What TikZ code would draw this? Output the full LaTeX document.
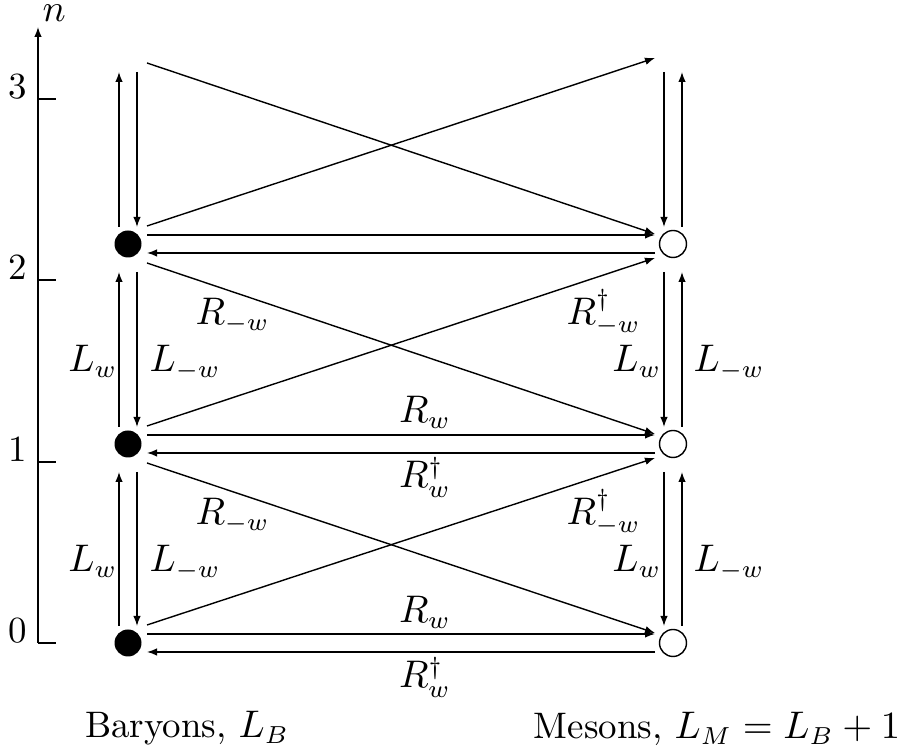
\documentclass[tikz,border=0pt]{standalone}
\usepackage{tikz}
\usetikzlibrary{positioning, arrows.meta, calc}
\usepackage{amsmath}
\usepackage{amssymb}

\begin{document}
\begin{tikzpicture}[
    every node/.style={font=\fontsize{10.5}{12.6}\selectfont},
    baryon/.style={circle, fill=black, minimum size=0.27cm, inner sep=0pt},
    meson/.style={circle, draw, minimum size=0.27cm, inner sep=0pt},
    lab/.style={inner sep=0pt},
    hop/.style={-{Latex[length=1mm,width=0.75mm]}}
]
\useasboundingbox (0,0) rectangle (9.03,7.48);

% Axis
\coordinate (a0) at (0.38,1.05);
\coordinate (atop) at (0.38,7.21);
\draw[hop] (a0) -- (atop);
\node[lab, anchor=base west] (nlab) at (0.42,7.26) {$n$};
\coordinate (t0) at (0.38,1.05);
\coordinate (t1) at (0.38,2.86);
\coordinate (t2) at (0.38,4.68);
\coordinate (t3) at (0.38,6.49);
\draw (t0) -- ++(0.18,0);
\draw (t1) -- ++(0.18,0);
\draw (t2) -- ++(0.18,0);
\draw (t3) -- ++(0.18,0);
\node[lab, anchor=base east] (n0) at (0.28,1.05) {0};
\node[lab, anchor=base east] (n1) at (0.28,2.86) {1};
\node[lab, anchor=base east] (n2) at (0.28,4.68) {2};
\node[lab, anchor=base east] (n3) at (0.28,6.49) {3};

% Baryons
\node[baryon] (b0) at (1.28,1.05) {};
\node[baryon] (b1) at (1.28,3.04) {};
\node[baryon] (b2) at (1.28,5.04) {};
\coordinate (b3) at (1.28,7.04);

% Mesons
\node[meson] (m0) at (6.73,1.05) {};
\node[meson] (m1) at (6.73,3.04) {};
\node[meson] (m2) at (6.73,5.04) {};
\coordinate (m3) at (6.73,7.04);

% Baryon ladders
\draw[hop] ($(b0)+(-0.09,0.17)$) -- ($(b1)+(-0.09,-0.28)$);
\draw[hop] ($(b1)+(0.09,-0.28)$) -- ($(b0)+(0.09,0.17)$);
\draw[hop] ($(b1)+(-0.09,0.17)$) -- ($(b2)+(-0.09,-0.28)$);
\draw[hop] ($(b2)+(0.09,-0.28)$) -- ($(b1)+(0.09,0.17)$);
\draw[hop] ($(b2)+(-0.09,0.17)$) -- ($(b3)+(-0.09,-0.28)$);
\draw[hop] ($(b3)+(0.09,-0.28)$) -- ($(b2)+(0.09,0.17)$);

% Meson ladders
\draw[hop] ($(m1)+(-0.09,-0.28)$) -- ($(m0)+(-0.09,0.17)$);
\draw[hop] ($(m0)+(0.09,0.17)$) -- ($(m1)+(0.09,-0.28)$);
\draw[hop] ($(m2)+(-0.09,-0.28)$) -- ($(m1)+(-0.09,0.17)$);
\draw[hop] ($(m1)+(0.09,0.17)$) -- ($(m2)+(0.09,-0.28)$);
\draw[hop] ($(m3)+(-0.09,-0.28)$) -- ($(m2)+(-0.09,0.17)$);
\draw[hop] ($(m2)+(0.09,0.17)$) -- ($(m3)+(0.09,-0.28)$);

% Same level
\draw[hop] ($(b0)+(0.19,0.09)$) -- ($(m0)+(-0.18,0.09)$);
\draw[hop] ($(m0)+(-0.18,-0.09)$) -- ($(b0)+(0.19,-0.09)$);
\draw[hop] ($(b1)+(0.19,0.09)$) -- ($(m1)+(-0.18,0.09)$);
\draw[hop] ($(m1)+(-0.18,-0.09)$) -- ($(b1)+(0.19,-0.09)$);
\draw[hop] ($(b2)+(0.19,0.09)$) -- ($(m2)+(-0.18,0.09)$);
\draw[hop] ($(m2)+(-0.18,-0.09)$) -- ($(b2)+(0.19,-0.09)$);

% Crossing
\draw[hop] ($(b0)+(0.19,0.18)$) -- ($(m1)+(-0.18,-0.14)$);
\draw[hop] ($(b1)+(0.19,-0.19)$) -- ($(m0)+(-0.18,0.10)$);
\draw[hop] ($(b1)+(0.19,0.18)$) -- ($(m2)+(-0.18,-0.14)$);
\draw[hop] ($(b2)+(0.19,-0.19)$) -- ($(m1)+(-0.18,0.10)$);
\draw[hop] ($(b2)+(0.19,0.18)$) -- ($(m3)+(-0.18,-0.14)$);
\draw[hop] ($(b3)+(0.19,-0.19)$) -- ($(m2)+(-0.18,0.10)$);

% Labels
\node[lab, anchor=base east] (lb0) at (1.18,1.76) {$L_w$};
\node[lab, anchor=base west] (lmb0) at (1.49,1.76) {$L_{-w}$};
\node[lab, anchor=base east] (lb1) at (1.18,3.76) {$L_w$};
\node[lab, anchor=base west] (lmb1) at (1.49,3.76) {$L_{-w}$};
\node[lab, anchor=base east] (lm0) at (6.62,1.76) {$L_w$};
\node[lab, anchor=base west] (lmm0) at (6.93,1.76) {$L_{-w}$};
\node[lab, anchor=base east] (lm1) at (6.62,3.76) {$L_w$};
\node[lab, anchor=base west] (lmm1) at (6.93,3.76) {$L_{-w}$};
\node[lab, anchor=base west] (rm0) at (1.95,2.23) {$R_{-w}$};
\node[lab, anchor=base west] (rm1) at (1.95,4.23) {$R_{-w}$};
\node[lab, anchor=base west] (rmd0) at (5.66,2.23) {$R^\dagger_{-w}$};
\node[lab, anchor=base west] (rmd1) at (5.66,4.23) {$R^\dagger_{-w}$};
\node[lab, anchor=base] (r0) at (4.25,1.25) {$R_w$};
\node[lab, anchor=base] (rd0) at (4.25,0.60) {$R_w^\dagger$};
\node[lab, anchor=base] (r1) at (4.25,3.25) {$R_w$};
\node[lab, anchor=base] (rd1) at (4.25,2.60) {$R_w^\dagger$};

% Captions
\node[lab, anchor=base] (bcap) at (1.87,0.10) {Baryons, $L_B$};
\node[lab, anchor=base] (mcap) at (7.17,0.09) {Mesons, $L_M = L_B + 1$};
\end{tikzpicture}
\end{document}
